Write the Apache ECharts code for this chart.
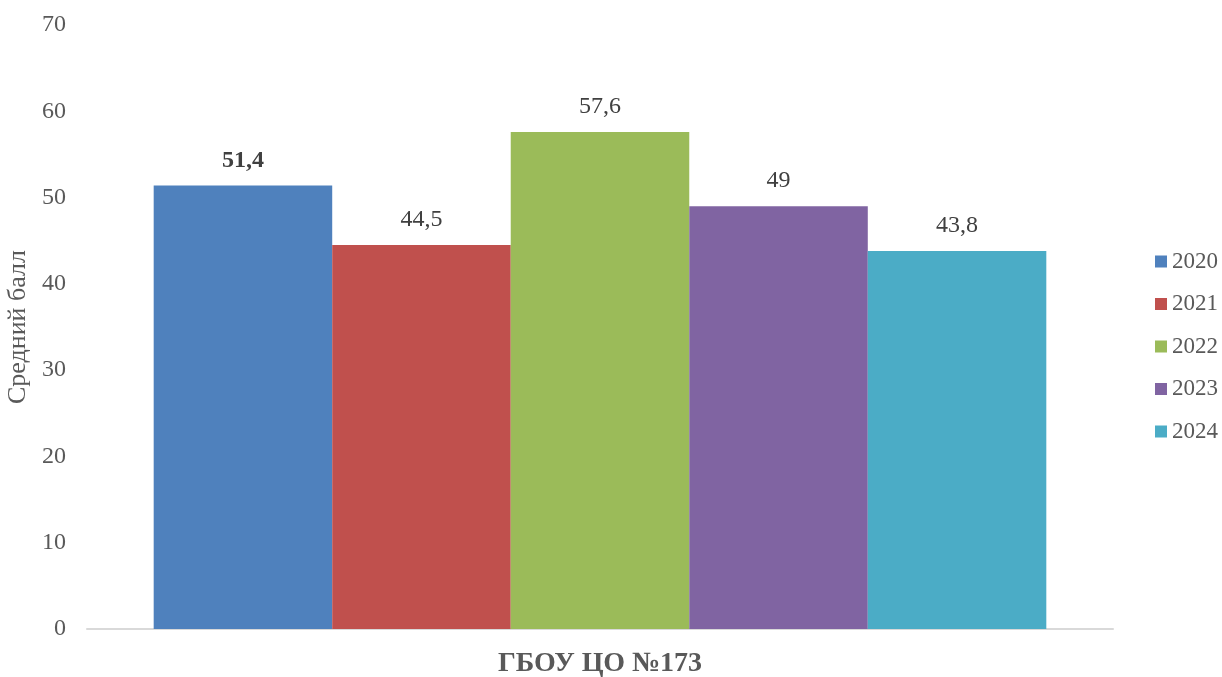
<!DOCTYPE html>
<html><head><meta charset="utf-8">
<script src="https://cdn.jsdelivr.net/npm/echarts@6/dist/echarts.min.js"></script>
<style>html,body{margin:0;padding:0;background:#fff}#c{width:1222px;height:677px}</style>
</head><body><div id="c"></div>
<script>
const categories = ['ГБОУ ЦО №173'];
const years = ['2020','2021','2022','2023','2024'];
const values = [51.4, 44.5, 57.6, 49, 43.8];
const colors = ['#4F81BD','#C0504D','#9BBB59','#8064A2','#4BACC6'];
const yTicks = [0,10,20,30,40,50,60,70];
const font = 'Liberation Serif, Times New Roman, serif';
const fmt = v => String(v).replace('.', ',');
const chart = echarts.init(document.getElementById('c'));
chart.setOption({
  animation:false,
  textStyle:{fontFamily:font},
  grid:{left:87,right:109,top:25,bottom:48,containLabel:false,outerBoundsMode:'none'},
  legend:{orient:'vertical',left:1150,top:245,itemWidth:12,itemHeight:12,itemGap:19.5,
    icon:'rect',textStyle:{fontFamily:font,fontSize:23,color:'#595959'},data:years},
  xAxis:{type:'category',data:categories,
    axisLine:{lineStyle:{color:'#D9D9D9',width:2}},axisTick:{show:false},
    axisLabel:{fontFamily:font,fontSize:28,fontWeight:'bold',color:'#595959',margin:21}},
  yAxis:{type:'value',min:0,max:70,interval:10,
    name:'Средний балл',nameLocation:'middle',nameGap:54,
    nameTextStyle:{fontFamily:font,fontSize:26,color:'#595959'},
    splitLine:{show:false},axisLine:{show:false},axisTick:{show:false},
    axisLabel:{fontFamily:font,fontSize:24,color:'#595959',margin:21}},
  series: years.map((y,i)=>({
    name:y,type:'bar',data:[values[i]],
    barGap:'0%',barCategoryGap:'13%',
    itemStyle:{color:colors[i]},
    label:{show:true,position:'top',distance:13,formatter:p=>fmt(p.value),
      fontFamily:font,fontSize:24,color:'#404040',fontWeight:i===0?'bold':'normal'}
  }))
});
</script></body></html>
